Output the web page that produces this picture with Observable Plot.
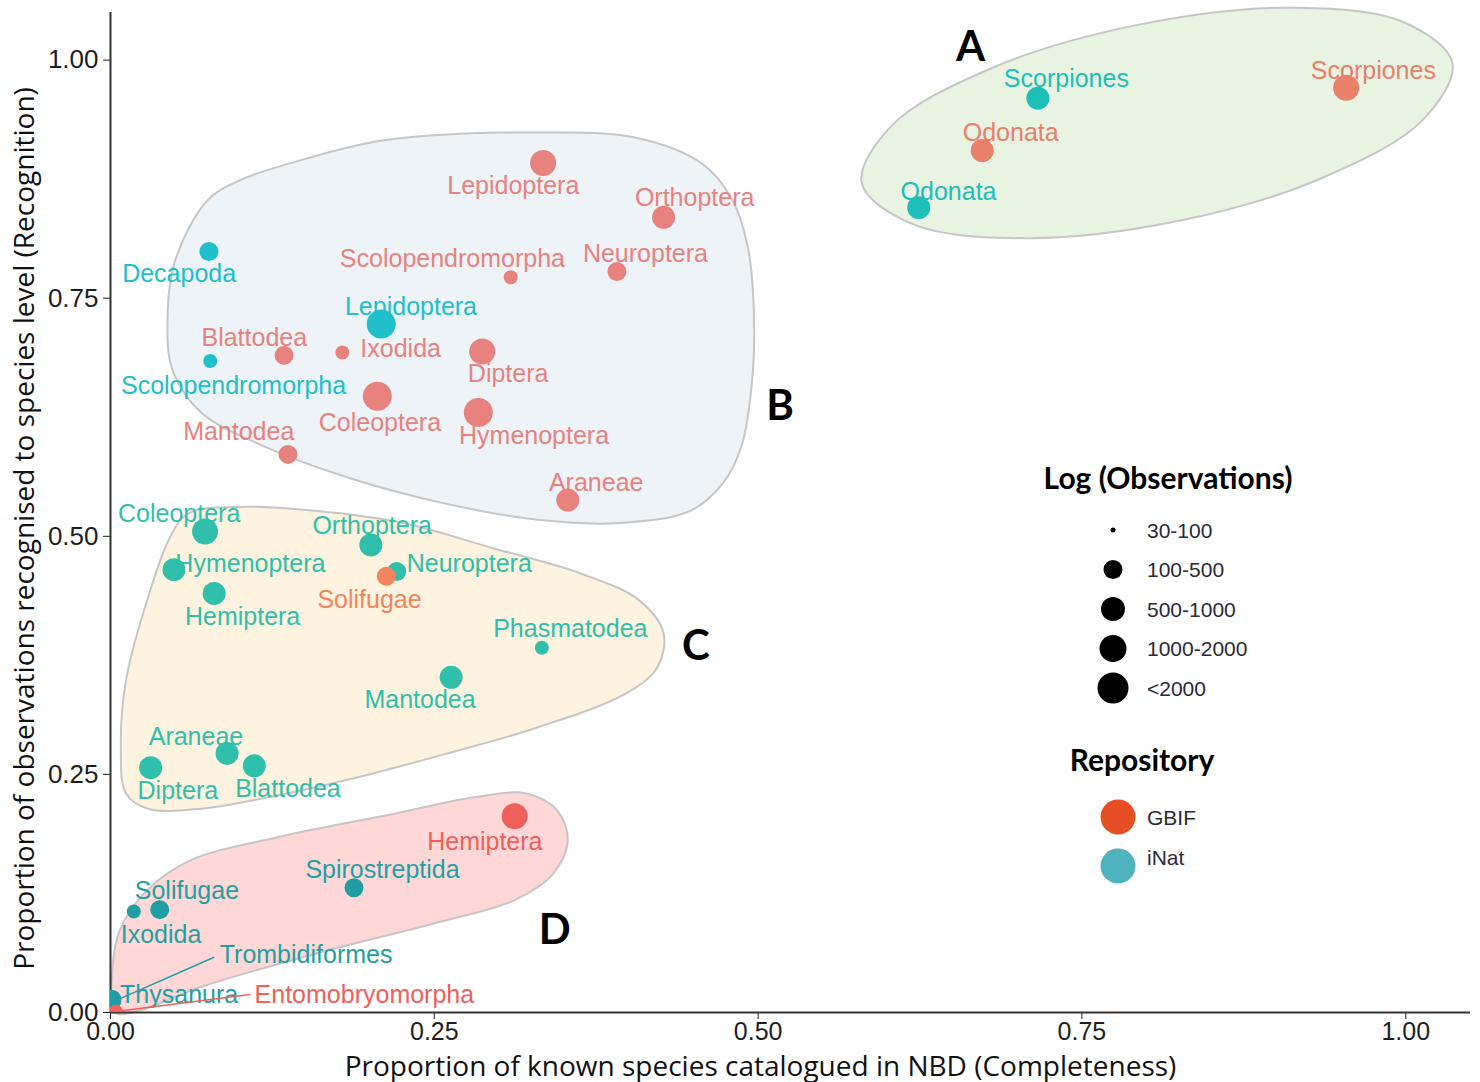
<!DOCTYPE html>
<html><head><meta charset="utf-8">
<script src="https://cdn.jsdelivr.net/npm/d3@7"></script>
<script src="https://cdn.jsdelivr.net/npm/@observablehq/plot@0.6"></script>
<style>
body{margin:0;background:#fff;}
#chart{position:relative;width:1480px;height:1082px;}
</style></head><body><div id="chart"></div>
<script>
// ---------- data ----------
const names = ["Scorpiones","Scorpiones","Odonata","Odonata",
  "Lepidoptera","Orthoptera","Scolopendromorpha","Neuroptera","Lepidoptera","Ixodida","Blattodea","Diptera","Decapoda","Scolopendromorpha","Coleoptera","Hymenoptera","Mantodea","Araneae",
  "Coleoptera","Orthoptera","Hymenoptera","Neuroptera","Solifugae","Hemiptera","Phasmatodea","Mantodea","Araneae","Diptera","Blattodea",
  "Hemiptera","Spirostreptida","Solifugae","Ixodida","Trombidiformes","Thysanura","Entomobryomorpha"];
const repository = ["iNat","GBIF","GBIF","iNat",
  "GBIF","GBIF","GBIF","GBIF","iNat","GBIF","GBIF","GBIF","iNat","iNat","GBIF","GBIF","GBIF","GBIF",
  "iNat","iNat","iNat","iNat","GBIF","iNat","iNat","iNat","iNat","iNat","iNat",
  "GBIF","iNat","iNat","iNat","iNat","iNat","GBIF"];
const group = ["A","A","A","A",
  "B","B","B","B","B","B","B","B","B","B","B","B","B","B",
  "C","C","C","C","C","C","C","C","C","C","C",
  "D","D","D","D","D","D","D"];
const completeness = [0.716,0.954,0.673,0.624,
  0.334,0.427,0.309,0.391,0.209,0.179,0.134,0.287,0.076,0.077,0.206,0.284,0.137,0.353,
  0.073,0.201,0.049,0.221,0.213,0.080,0.333,0.263,0.090,0.031,0.111,
  0.312,0.188,0.038,0.018,0.003,0.001,0.004];
const recognition = [0.960,0.971,0.905,0.845,
  0.892,0.835,0.772,0.778,0.723,0.693,0.690,0.694,0.799,0.684,0.647,0.630,0.586,0.538,
  0.505,0.491,0.465,0.463,0.458,0.440,0.383,0.352,0.272,0.257,0.259,
  0.206,0.131,0.108,0.106,0.012,0.014,0.001];
// observation class: 1 = 30-100, 2 = 100-500, 3 = 500-1000, 4 = 1000-2000, 5 = <2000
const obsClass = [3,4,3,3,
  4,3,1,2,5,1,2,4,2,1,5,5,2,3,
  4,3,3,2,2,3,1,3,3,3,3,
  4,2,2,1,1,2,1];
// repelled label anchors (data units)
const labelX = [0.738,0.975,0.695,0.647,
  0.311,0.451,0.264,0.413,0.232,0.224,0.111,0.307,0.053,0.095,0.208,0.327,0.099,0.375,
  0.053,0.202,0.108,0.277,0.200,0.102,0.355,0.239,0.066,0.052,0.137,
  0.289,0.210,0.059,0.039,0.151,0.053,0.196];
const labelY = [0.980,0.989,0.924,0.862,
  0.868,0.855,0.791,0.796,0.741,0.697,0.708,0.670,0.775,0.658,0.619,0.605,0.610,0.556,
  0.523,0.511,0.471,0.471,0.433,0.415,0.403,0.328,0.289,0.233,0.235,
  0.179,0.150,0.128,0.081,0.060,0.018,0.018];
// leader lines (point index -> label end)
const leaderIndex = [33, 35];
const leaderEndX = [0.080, 0.108];
const leaderEndY = [0.058, 0.019];

// cluster annotations
const groupLetters = ["A","B","C","D"];
const letterX = [0.664, 0.517, 0.452, 0.343];
const letterY = [1.013, 0.636, 0.384, 0.086];
const hullA_x = [1.036,1.013,0.935,0.824,0.708,0.619,0.580,0.603,0.681,0.793,0.909,0.998];
const hullA_y = [0.997,0.937,0.876,0.831,0.813,0.828,0.871,0.931,0.992,1.037,1.055,1.040];
const hullB_x = [0.075,0.100,0.147,0.199,0.249,0.327,0.404,0.456,0.479,0.492,0.497,0.494,0.487,0.473,0.448,0.394,0.332,0.263,0.185,0.116,0.070,0.048,0.044,0.050];
const hullB_y = [0.853,0.874,0.895,0.913,0.921,0.924,0.919,0.892,0.856,0.804,0.716,0.646,0.594,0.556,0.527,0.514,0.517,0.533,0.561,0.596,0.630,0.674,0.727,0.790];
const hullC_x = [0.046,0.060,0.104,0.156,0.226,0.294,0.363,0.408,0.427,0.422,0.398,0.329,0.260,0.191,0.122,0.070,0.029,0.012,0.008,0.012,0.029];
const hullC_y = [0.499,0.524,0.531,0.527,0.514,0.488,0.461,0.433,0.398,0.362,0.335,0.299,0.272,0.247,0.226,0.214,0.214,0.230,0.278,0.349,0.436];
const hullD_x = [0.001,0.007,0.028,0.062,0.129,0.220,0.281,0.321,0.345,0.353,0.342,0.312,0.251,0.159,0.068,0.022,0.003];
const hullD_y = [0.034,0.086,0.128,0.160,0.184,0.209,0.226,0.230,0.212,0.181,0.146,0.118,0.094,0.062,0.026,0.002,0.000];

const tickValues = [0, 0.25, 0.50, 0.75, 1.00];
const sizeLegendLabels = ["30-100","100-500","500-1000","1000-2000","<2000"];
const repoLegendLabels = ["GBIF","iNat"];

// ---------- styles ----------
const colorKeys = ["A-GBIF","A-iNat","B-GBIF","B-iNat","C-GBIF","C-iNat","D-GBIF","D-iNat"];
const colorRange = ["#E8806C","#1DBFB8","#E8827F","#20BFCA","#F3845F","#30BFAA","#F0605A","#1F9FA3"];
const hullFills = {A:"#E9F3E2", B:"#EEF3F8", C:"#FDF3DF", D:"#FFD7D6"};

const pts = names.map((n, i) => ({
  name: n, repo: repository[i], group: group[i], key: group[i] + "-" + repository[i],
  x: completeness[i], y: recognition[i], size: obsClass[i], lx: labelX[i], ly: labelY[i]
}));
const leaders = leaderIndex.map((k, j) => ({key: pts[k].key, x1: pts[k].x, y1: pts[k].y, x2: leaderEndX[j], y2: leaderEndY[j]}));
const letters = groupLetters.map((g, i) => ({g, x: letterX[i], y: letterY[i]}));
const hulls = [
  {g:"A", xs:hullA_x, ys:hullA_y}, {g:"B", xs:hullB_x, ys:hullB_y},
  {g:"C", xs:hullC_x, ys:hullC_y}, {g:"D", xs:hullD_x, ys:hullD_y}
].map(h => ({g: h.g, pts: h.xs.map((x, i) => ({x, y: h.ys[i]}))}));

const labelFont = "Liberation Sans, Arial, sans-serif";
const titleFont = "Open Sans, sans-serif";

const plot = Plot.plot({
  width: 1480, height: 1082,
  marginLeft: 110, marginRight: 10, marginTop: 12, marginBottom: 70,
  style: {fontFamily: labelFont, fontSize: "25px", background: "#fff", overflow: "visible"},
  x: {domain: [0, 1.05]},
  y: {domain: [0, 1.05]},
  color: {domain: colorKeys, range: colorRange},
  r: {type: "linear", domain: [1,2,3,4,5], range: [7, 9.5, 11.5, 13, 14.5]},
  marks: [
    ...hulls.map(h => Plot.line(h.pts, {x: "x", y: "y", curve: "catmull-rom-closed",
      fill: hullFills[h.g], stroke: "#c6c6c6", strokeWidth: 2})),
    Plot.axisX({ticks: tickValues, tickFormat: d3.format(".2f"), tickSize: 7, tickPadding: 3,
      fontSize: 25, label: null, color: "#1e1e1e"}),
    Plot.axisY({ticks: tickValues, tickFormat: d3.format(".2f"), tickSize: 7, tickPadding: 5,
      fontSize: 26, label: null, color: "#1e1e1e"}),
    Plot.ruleX([0], {stroke: "#333", strokeWidth: 2}),
    Plot.ruleY([0], {stroke: "#333", strokeWidth: 2}),
    Plot.text(letters, {x: "x", y: "y", text: "g", fontSize: 42, fontWeight: "bold",
      fontFamily: "Lato, Open Sans, sans-serif", fill: "#000"}),
    Plot.text(pts, {x: "lx", y: "ly", text: "name", fill: "key", fontSize: 25, fontFamily: labelFont}),
    Plot.link(leaders, {x1: "x1", y1: "y1", x2: "x2", y2: "y2", stroke: "key", strokeWidth: 1.5}),
    Plot.dot(pts, {x: "x", y: "y", r: "size", fill: "key", clip: true}),
    Plot.text(["Proportion of known species catalogued in NBD (Completeness)"],
      {frameAnchor: "bottom", textAnchor: "middle", lineAnchor: "middle", dx: -30, dy: 55,
       fontSize: 28, fontFamily: titleFont, fill: "#111"}),
    Plot.text(["Proportion of observations recognised to species level (Recognition)"],
      {frameAnchor: "left", textAnchor: "middle", lineAnchor: "middle", rotate: -90, dx: -85, dy: 16,
       fontSize: 28, fontFamily: titleFont, fill: "#111"})
  ]
});
document.getElementById("chart").appendChild(plot);

// ---------- legends (inside the panel) ----------
const svg = d3.select(plot);
const lg = svg.append("g").attr("font-family", labelFont).attr("text-anchor", "start");
lg.append("text").attr("x", 1168).attr("y", 477).attr("text-anchor", "middle").attr("dominant-baseline", "central")
  .attr("font-family", "Lato, Open Sans, sans-serif").attr("font-weight", "bold").attr("font-size", 30).attr("fill", "#000")
  .text("Log (Observations)");
const legendR = [2.5, 9.5, 12, 13.5, 15.5];
sizeLegendLabels.forEach((s, i) => {
  const y = 530 + i * 39.5;
  lg.append("circle").attr("cx", 1113).attr("cy", y).attr("r", legendR[i]).attr("fill", "#000");
  lg.append("text").attr("x", 1147).attr("y", y).attr("text-anchor", "start").attr("dominant-baseline", "central")
    .attr("font-size", 21).attr("fill", "#2a2a35").text(s);
});
lg.append("text").attr("x", 1142).attr("y", 759).attr("text-anchor", "middle").attr("dominant-baseline", "central")
  .attr("font-family", "Lato, Open Sans, sans-serif").attr("font-weight", "bold").attr("font-size", 30).attr("fill", "#000")
  .text("Repository");
const repoColors = ["#E64E25", "#4DB3BE"];
repoLegendLabels.forEach((s, i) => {
  lg.append("circle").attr("cx", 1118).attr("cy", 817 + i * 49).attr("r", 17.5).attr("fill", repoColors[i]);
  lg.append("text").attr("x", 1147).attr("y", 817 + i * 40).attr("text-anchor", "start").attr("dominant-baseline", "central")
    .attr("font-size", 21).attr("fill", "#2a2a35").text(s);
});
</script></body></html>
